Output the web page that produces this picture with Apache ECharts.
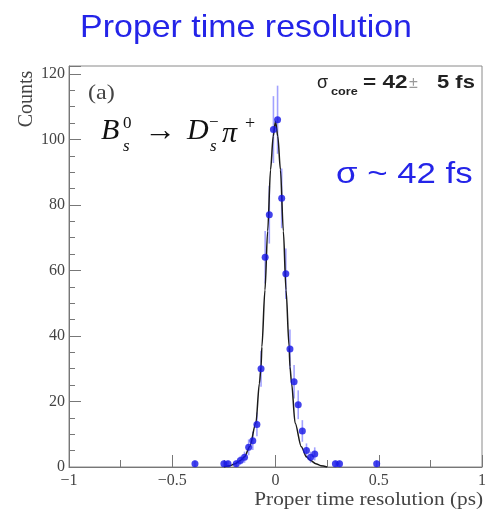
<!DOCTYPE html>
<html>
<head>
<meta charset="utf-8">
<script src="https://cdn.jsdelivr.net/npm/echarts@6/dist/echarts.min.js"></script>
<style>
html,body{margin:0;padding:0;background:#fff;}
#chart{width:489px;height:511px;}
</style>
</head>
<body>
<div id="chart"></div>
<script>
// ---- data ----
const xTickLabels = ['\u22121', '\u22120.5', '0', '0.5', '1'];
const yTickLabels = ['0', '20', '40', '60', '80', '100', '120'];
const binCenters = [-0.39, -0.25, -0.23, -0.19, -0.17, -0.15, -0.13, -0.11, -0.09, -0.07, -0.05, -0.03, -0.01,
                    0.01, 0.03, 0.05, 0.07, 0.09, 0.11, 0.13, 0.15, 0.17, 0.19, 0.29, 0.31, 0.49];
const counts = [1, 1, 1, 1, 2, 3, 6, 8, 13, 30, 64, 77, 103,
                106, 82, 59, 36, 26, 19, 11, 5, 3, 4, 1, 1, 1];
const countErrors = [1, 1, 1, 1, 1.4, 1.7, 2.4, 2.8, 3.6, 5.5, 8, 8.8, 10.2,
                     10.4, 9.1, 7.7, 6, 5.1, 4.4, 3.3, 2.2, 1.7, 2, 1, 1, 1];
const fitX = [-0.25, -0.22, -0.195, -0.17, -0.15, -0.125, -0.095, -0.078, -0.07, -0.066, -0.051, -0.038, -0.024, -0.011, 0,
              0.011, 0.024, 0.038, 0.051, 0.066, 0.07, 0.078, 0.095, 0.125, 0.15, 0.17, 0.195, 0.22, 0.25];
const fitY = [0, 0.4, 1, 2, 3.1, 6.2, 13.4, 25.5, 30.6, 36.7, 54, 72, 90.7, 101, 105.5,
              101, 90.7, 72, 54, 36.7, 30.6, 25.5, 13.4, 6.2, 3.1, 2, 1, 0.4, 0];
const titleText = 'Proper time resolution';
const xAxisTitle = 'Proper time resolution (ps)';
const yAxisTitle = 'Counts';

const points = binCenters.map((x, i) => [x, counts[i], countErrors[i]]);
const fitLine = fitX.map((x, i) => [x, fitY[i]]);

const serif = '"Liberation Serif","DejaVu Serif",serif';
const sans = '"Liberation Sans","DejaVu Sans",sans-serif';
const blue = '#2424e8';

function txt(o) {
  const st = Object.assign({
    fill: '#111', align: 'left', textAlign: 'left',
    verticalAlign: 'middle', textVerticalAlign: 'middle'
  }, o.style);
  if (o.style.align) st.textAlign = o.style.align;
  if (o.style.verticalAlign) st.textVerticalAlign = o.style.verticalAlign;
  return Object.assign({type: 'text', z: 100}, o, {style: st});
}

const chart = echarts.init(document.getElementById('chart'), null, {renderer: 'canvas'});
chart.setOption({
  animation: false,
  backgroundColor: '#fff',
  grid: {left: 69, right: 6, top: 66, bottom: 44, show: true, borderColor: '#8a8a8a', borderWidth: 1, containLabel: false},
  xAxis: {
    type: 'value', min: -1, max: 1, interval: 0.5,
    axisLine: {show: true, onZero: false, lineStyle: {color: '#777', width: 1}},
    axisTick: {show: true, inside: true, length: 12, lineStyle: {color: '#777'}},
    minorTick: {show: true, splitNumber: 2, length: 7, lineStyle: {color: '#777'}},
    splitLine: {show: false},
    axisLabel: {
      margin: 6, color: '#444', fontFamily: serif, fontSize: 16,
      formatter: v => xTickLabels[Math.round((v + 1) / 0.5)]
    }
  },
  yAxis: {
    type: 'value', min: 0, max: 122.4, interval: 20, position: 'left',
    axisLine: {show: true, onZero: false, lineStyle: {color: '#777', width: 1}},
    axisTick: {show: true, inside: true, length: 12, lineStyle: {color: '#777'}},
    minorTick: {show: true, splitNumber: 4, length: 6, lineStyle: {color: '#777'}},
    splitLine: {show: false},
    axisLabel: {
      margin: 4, color: '#444', fontFamily: serif, fontSize: 16, showMaxLabel: false,
      formatter: v => (Math.abs(v / 20 - Math.round(v / 20)) < 1e-6 ? yTickLabels[Math.round(v / 20)] : '')
    }
  },
  series: [{
    type: 'custom', name: 'errors', data: points, z: 2,
    renderItem: function (params, api) {
      const x = api.value(0), y = api.value(1), e = api.value(2);
      const p1 = api.coord([x, Math.max(0, y - e)]);
      const p2 = api.coord([x, y + e]);
      return {type: 'line', shape: {x1: p1[0], y1: p1[1], x2: p2[0], y2: p2[1]},
        style: {stroke: 'rgba(100,100,255,0.6)', lineWidth: 1.6}};
    }
  }, {
    type: 'line', name: 'fit', data: fitLine, z: 3, symbol: 'none', smooth: 0.3, smoothMonotone: 'x',
    lineStyle: {color: '#1a1a1a', width: 1.5}
  }, {
    type: 'scatter', name: 'data', data: points, z: 4, symbol: 'circle', symbolSize: 7,
    itemStyle: {color: '#1414e6'}
  }],
  graphic: [
    txt({x: 246, y: 28, scaleX: 1.06, style: {text: titleText, font: '32px ' + sans, fill: blue, align: 'center'}}),
    txt({x: 336, y: 175, scaleX: 1.2, style: {text: '\u03c3 ~ 42 fs', font: '29px ' + sans, fill: blue}}),
    // sigma_core box
    txt({x: 317, y: 83, style: {text: '\u03c3', font: '18px ' + sans, fill: '#222'}}),
    txt({x: 331, y: 92, scaleX: 1.15, style: {text: 'core', font: 'bold 11px ' + sans, fill: '#222'}}),
    txt({x: 363, y: 83, scaleX: 1.25, style: {text: '= 42', font: 'bold 18px ' + sans, fill: '#222'}}),
    txt({x: 409, y: 84, style: {text: '\u00b1', font: '16px ' + sans, fill: '#999'}}),
    txt({x: 437, y: 83, scaleX: 1.22, style: {text: '5 fs', font: 'bold 18px ' + sans, fill: '#222'}}),
    // (a)
    txt({x: 88, y: 93, scaleX: 1.15, style: {text: '(a)', font: '21px ' + serif, fill: '#444'}}),
    // decay formula
    txt({x: 101, y: 131, style: {text: 'B', font: 'italic 30px ' + serif}}),
    txt({x: 123, y: 124, style: {text: '0', font: '17px ' + serif}}),
    txt({x: 123, y: 147, style: {text: 's', font: 'italic 17px ' + serif}}),
    txt({x: 144, y: 132, style: {text: '\u2192', font: '32px ' + serif}}),
    txt({x: 187, y: 131, style: {text: 'D', font: 'italic 30px ' + serif}}),
    txt({x: 209, y: 123, style: {text: '\u2212', font: '17px ' + serif}}),
    txt({x: 210, y: 147, style: {text: 's', font: 'italic 17px ' + serif}}),
    txt({x: 222, y: 134, style: {text: '\u03c0', font: 'italic 30px ' + serif}}),
    txt({x: 245, y: 124, style: {text: '+', font: '18px ' + serif}}),
    // axis titles
    txt({x: 27, y: 99, rotation: Math.PI / 2, style: {text: yAxisTitle, font: '20px ' + serif, fill: '#444', align: 'center'}}),
    txt({x: 483, y: 500, scaleX: 1.12, style: {text: xAxisTitle, font: '19px ' + serif, fill: '#444', align: 'right'}})
  ]
});
</script>
</body>
</html>
